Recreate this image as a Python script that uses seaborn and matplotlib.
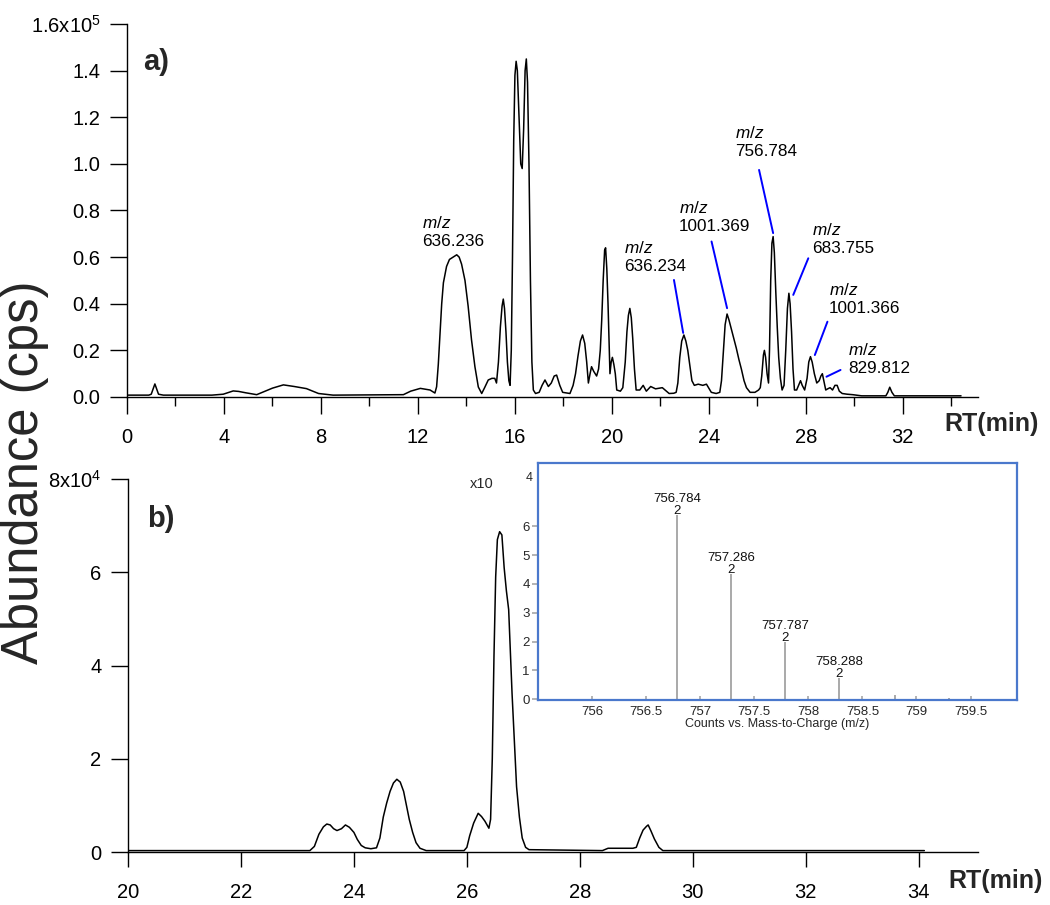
import numpy as np
import pandas as pd
import matplotlib
matplotlib.use("Agg")
import matplotlib.pyplot as plt
import seaborn as sns
from matplotlib.ticker import FixedLocator

# ---------------- data ----------------
# panel a) total chromatogram, abundance in units of 1e5 cps
top_rt = [0.0, 0.9, 1.0, 1.08, 1.15, 1.22, 1.3, 1.5, 3.5, 3.97, 4.2, 4.38, 4.6, 4.9, 5.35,
          5.7, 6.0, 6.45, 6.9, 7.4, 7.9, 8.5, 11.4, 11.7, 12.1, 12.5, 12.7, 12.77, 12.84,
          12.91, 12.98, 13.05, 13.18, 13.3, 13.45, 13.6, 13.7, 13.8, 13.94, 14.07, 14.21,
          14.35, 14.49, 14.63, 14.75, 14.9, 15.05, 15.17, 15.24, 15.32, 15.4, 15.47, 15.52,
          15.57, 15.63, 15.69, 15.75, 15.8, 15.85, 15.9, 15.95, 16.0, 16.05, 16.1, 16.17,
          16.24, 16.3, 16.36, 16.42, 16.47, 16.52, 16.58, 16.64, 16.7, 16.76, 16.85, 17.0,
          17.12, 17.24, 17.38, 17.5, 17.62, 17.72, 17.85, 17.97, 18.27, 18.4, 18.5, 18.6,
          18.7, 18.79, 18.88, 18.96, 19.03, 19.1, 19.16, 19.25, 19.37, 19.45, 19.52, 19.58,
          19.64, 19.7, 19.74, 19.79, 19.84, 19.88, 19.92, 19.97, 20.02, 20.08, 20.14, 20.2,
          20.35, 20.45, 20.55, 20.62, 20.68, 20.74, 20.8, 20.86, 20.93, 21.0, 21.15, 21.29,
          21.42, 21.6, 21.8, 22.08, 22.36, 22.55, 22.65, 22.72, 22.8, 22.88, 22.97, 23.05,
          23.13, 23.22, 23.3, 23.4, 23.56, 23.75, 23.9, 24.1, 24.3, 24.45, 24.52, 24.6, 24.67,
          24.75, 24.83, 24.93, 25.03, 25.13, 25.24, 25.34, 25.45, 25.55, 25.7, 25.9, 26.05,
          26.12, 26.18, 26.25, 26.29, 26.34, 26.4, 26.46, 26.5, 26.55, 26.6, 26.65, 26.7,
          26.76, 26.82, 26.88, 26.95, 27.02, 27.1, 27.17, 27.24, 27.3, 27.35, 27.41, 27.47,
          27.53, 27.62, 27.7, 27.78, 27.85, 27.95, 28.05, 28.12, 28.19, 28.26, 28.35, 28.45,
          28.55, 28.62, 28.68, 28.74, 28.82, 28.9, 29.0, 29.1, 29.2, 29.29, 29.38, 29.5,
          29.7, 29.93, 30.3, 31.3, 31.38, 31.46, 31.55, 31.65, 34.4]
top_ab = [0.008, 0.008, 0.012, 0.035, 0.056, 0.035, 0.012, 0.008, 0.008, 0.012, 0.02, 0.026,
          0.024, 0.018, 0.01, 0.025, 0.038, 0.052, 0.045, 0.036, 0.015, 0.008, 0.01, 0.025,
          0.037, 0.03, 0.017, 0.044, 0.14, 0.27, 0.4, 0.49, 0.56, 0.59, 0.6, 0.61, 0.6, 0.57,
          0.5, 0.39, 0.245, 0.13, 0.043, 0.015, 0.04, 0.073, 0.08, 0.08, 0.06, 0.15, 0.3,
          0.39, 0.42, 0.38, 0.28, 0.15, 0.07, 0.05, 0.2, 0.6, 1.1, 1.38, 1.44, 1.4, 1.2, 1.0,
          0.98, 1.15, 1.4, 1.45, 1.35, 1.0, 0.5, 0.15, 0.03, 0.015, 0.02, 0.05, 0.073, 0.045,
          0.06, 0.09, 0.094, 0.05, 0.02, 0.015, 0.05, 0.1, 0.175, 0.24, 0.266, 0.23, 0.15,
          0.06, 0.1, 0.13, 0.11, 0.09, 0.12, 0.2, 0.33, 0.5, 0.63, 0.64, 0.55, 0.4, 0.25, 0.1,
          0.15, 0.17, 0.14, 0.1, 0.03, 0.025, 0.04, 0.15, 0.28, 0.35, 0.38, 0.34, 0.25, 0.12,
          0.03, 0.03, 0.05, 0.025, 0.045, 0.035, 0.04, 0.015, 0.016, 0.02, 0.06, 0.17, 0.24,
          0.266, 0.24, 0.2, 0.13, 0.07, 0.05, 0.055, 0.05, 0.055, 0.02, 0.015, 0.02, 0.07,
          0.2, 0.31, 0.356, 0.33, 0.29, 0.25, 0.21, 0.16, 0.12, 0.07, 0.04, 0.02, 0.02, 0.03,
          0.04, 0.09, 0.18, 0.2, 0.17, 0.1, 0.06, 0.2, 0.5, 0.66, 0.688, 0.62, 0.45, 0.3, 0.17,
          0.08, 0.03, 0.05, 0.2, 0.38, 0.445, 0.4, 0.28, 0.12, 0.03, 0.03, 0.05, 0.07, 0.05,
          0.03, 0.08, 0.15, 0.173, 0.15, 0.1, 0.06, 0.07, 0.09, 0.1, 0.07, 0.03, 0.035, 0.04,
          0.03, 0.05, 0.05, 0.025, 0.015, 0.012, 0.01, 0.005, 0.005, 0.02, 0.042, 0.02, 0.005,
          0.005]

# panel b) extracted chromatogram m/z 756.784, abundance in units of 1e4 cps
bot_rt = [20.0, 23.22, 23.3, 23.38, 23.46, 23.52, 23.58, 23.64, 23.7, 23.78, 23.85, 23.92,
          24.0, 24.06, 24.13, 24.2, 24.3, 24.4, 24.46, 24.52, 24.58, 24.64, 24.7, 24.76,
          24.82, 24.88, 24.93, 24.98, 25.04, 25.1, 25.17, 25.28, 25.95, 26.0, 26.05, 26.12,
          26.2, 26.26, 26.32, 26.39, 26.42, 26.45, 26.48, 26.51, 26.54, 26.58, 26.62, 26.66,
          26.7, 26.74, 26.77, 26.8, 26.84, 26.88, 26.93, 26.98, 27.04, 27.1, 28.4, 28.5,
          28.94, 29.0, 29.06, 29.12, 29.18, 29.21, 29.26, 29.32, 29.4, 29.47, 34.1]
bot_ab = [0.03, 0.03, 0.12, 0.38, 0.54, 0.6, 0.58, 0.5, 0.46, 0.5, 0.58, 0.53, 0.42, 0.27,
          0.14, 0.09, 0.07, 0.09, 0.3, 0.75, 1.05, 1.3, 1.48, 1.56, 1.5, 1.3, 1.0, 0.7, 0.42,
          0.2, 0.08, 0.03, 0.03, 0.1, 0.35, 0.62, 0.83, 0.76, 0.66, 0.51, 0.7, 2.0, 4.2, 5.9,
          6.7, 6.87, 6.8, 6.1, 5.6, 5.2, 4.3, 3.4, 2.4, 1.4, 0.75, 0.3, 0.1, 0.05, 0.03, 0.08,
          0.08, 0.1, 0.3, 0.47, 0.55, 0.58, 0.45, 0.28, 0.1, 0.03, 0.03]

# inset mass spectrum (counts x1e4)
ms_mz = [756.784, 757.286, 757.787, 758.288, 758.8, 759.3]
ms_int = [6.39, 4.34, 1.98, 0.73, 0.14, 0.04]
ms_labels = ["756.784", "757.286", "757.787", "758.288", None, None]
ms_charge = ["2", "2", "2", "2", None, None]

top_yticks = [0.0, 0.2, 0.4, 0.6, 0.8, 1.0, 1.2, 1.4, 1.6]
top_ylabels = ["0.0", "0.2", "0.4", "0.6", "0.8", "1.0", "1.2", "1.4", "1.6x10$^5$"]
top_xticks = [0, 4, 8, 12, 16, 20, 24, 28, 32]
bot_yticks = [0, 2, 4, 6, 8]
bot_ylabels = ["0", "2", "4", "6", "8x10$^4$"]
bot_xticks = [20, 22, 24, 26, 28, 30, 32, 34]
ins_xticks = [756, 756.5, 757, 757.5, 758, 758.5, 759, 759.5]
ins_yticks = [0, 1, 2, 3, 4, 5, 6]

# annotations of panel a)
ann_labels = ["636.236", "636.234", "1001.369", "756.784", "683.755", "1001.366", "829.812"]
ann_text_rt = [12.16, 20.49, 22.76, 25.07, 28.25, 28.95, 29.73]
ann_text_ab = [0.78, 0.674, 0.845, 1.167, 0.751, 0.494, 0.236]
ann_line = [None,
            ((22.56, 0.502), (22.94, 0.275)),
            ((24.11, 0.667), (24.75, 0.381)),
            ((26.07, 0.974), (26.65, 0.703)),
            ((28.10, 0.595), (27.48, 0.438)),
            ((28.89, 0.323), (28.37, 0.180)),
            ((29.43, 0.116), (28.85, 0.087))]

# ---------------- style ----------------
sns.set_theme(style="ticks")
plt.rcParams["font.family"] = ["Liberation Sans", "DejaVu Sans"]
plt.rcParams["mathtext.fontset"] = "custom"
plt.rcParams["mathtext.rm"] = "Liberation Sans"
plt.rcParams["mathtext.it"] = "Liberation Sans:italic"

W, H = 1050, 905
fig = plt.figure(figsize=(W / 100, H / 100), dpi=100)
fig.patch.set_facecolor("white")


def box(l, t, r, b):
    return [l / W, 1 - b / H, (r - l) / W, (b - t) / H]


ax1 = fig.add_axes(box(127, 24, 978, 397))
ax2 = fig.add_axes(box(128, 479, 978, 852))
axi = fig.add_axes(box(538, 463, 1017, 700))

df_top = pd.DataFrame({"rt": top_rt, "ab": top_ab})
df_bot = pd.DataFrame({"rt": bot_rt, "ab": bot_ab})

sns.lineplot(data=df_top, x="rt", y="ab", ax=ax1, color="black", lw=1.1,
             estimator=None, sort=False)
sns.lineplot(data=df_bot, x="rt", y="ab", ax=ax2, color="black", lw=1.1,
             estimator=None, sort=False)

for ax in (ax1, ax2):
    ax.set_facecolor("none")
    for s in ("top", "right"):
        ax.spines[s].set_visible(False)
    for s in ("left", "bottom"):
        ax.spines[s].set_color("black")
        ax.spines[s].set_linewidth(1.0)
    ax.set_xlabel("")
    ax.set_ylabel("")
    ax.tick_params(axis="both", which="major", direction="out", color="black",
                   width=1.0, labelsize=14.5, labelcolor="black")
    ax.tick_params(axis="y", length=12, pad=7)

ax1.set_xlim(0, 35.1)
ax1.set_ylim(0, 1.6)
ax1.set_xticks(top_xticks)
ax1.xaxis.set_minor_locator(FixedLocator([t + 2 for t in top_xticks]))
ax1.tick_params(axis="x", which="major", length=12, pad=10)
ax1.tick_params(axis="x", which="minor", length=6.5, width=1.0, color="black", direction="out")
ax1.set_yticks(top_yticks)
ax1.set_yticklabels(top_ylabels)

ax2.set_xlim(20, 35.05)
ax2.set_ylim(0, 8)
ax2.set_xticks(bot_xticks)
ax2.tick_params(axis="x", which="major", length=11, pad=11)
ax2.set_yticks(bot_yticks)
ax2.set_yticklabels(bot_ylabels)

# annotations
for lab, tx, ty, ln in zip(ann_labels, ann_text_rt, ann_text_ab, ann_line):
    ax1.text(tx, ty, "$\\mathit{m/z}$\n" + lab, ha="left", va="top", fontsize=12.3,
             linespacing=1.25, color="black")
    if ln is not None:
        ax1.annotate("", xy=ln[1], xytext=ln[0],
                     arrowprops=dict(arrowstyle="-", color="#0000ff", lw=1.4,
                                     shrinkA=0, shrinkB=0))

# inset
axi.vlines(ms_mz, 0, ms_int, color="#a9a9a9", lw=1.4)
for mz, it, lab, ch in zip(ms_mz, ms_int, ms_labels, ms_charge):
    if lab is not None:
        axi.text(mz, it - 0.08, lab + "\n" + ch, ha="center", va="bottom", fontsize=9.5,
                 linespacing=1.0, color="#111111")
axi.set_xlim(755.5, 759.93)
axi.set_ylim(-0.03, 8.2)
axi.set_xticks(ins_xticks)
axi.set_xticklabels([f"{v:g}" for v in ins_xticks])
axi.set_yticks(ins_yticks)
axi.tick_params(axis="x", direction="in", length=3, color="#aaaaaa", labelsize=9.5, pad=4)
axi.tick_params(axis="y", direction="out", length=4, color="#aaaaaa", labelsize=9.5, pad=2)
axi.set_xlabel("Counts vs. Mass-to-Charge (m/z)", fontsize=9, labelpad=0)
axi.set_ylabel("")
axi.set_facecolor("white")
for s in axi.spines.values():
    s.set_color("#4a78cc")
    s.set_linewidth(1.6)
axi.set_zorder(5)

fig.text(470 / W, 1 - 484 / H, "x10", fontsize=10.5, ha="left", va="center")
fig.text(526 / W, 1 - 478 / H, "4", fontsize=9, ha="left", va="center")

# labels
fig.text(25 / W, 1 - 472 / H, "Abundance (cps)", rotation=90, ha="center", va="center",
         fontsize=36.5)
fig.text(143 / W, 1 - 70 / H, "a)", fontsize=21, fontweight="bold", ha="left", va="baseline")
fig.text(147 / W, 1 - 527 / H, "b)", fontsize=21, fontweight="bold", ha="left", va="baseline")
fig.text(992 / W, 1 - 424 / H, "RT(min)", fontsize=18, fontweight="bold", ha="center", va="center")
fig.text(996 / W, 1 - 881 / H, "RT(min)", fontsize=18, fontweight="bold", ha="center", va="center")

fig.savefig("out.png", dpi=100, facecolor="white")
